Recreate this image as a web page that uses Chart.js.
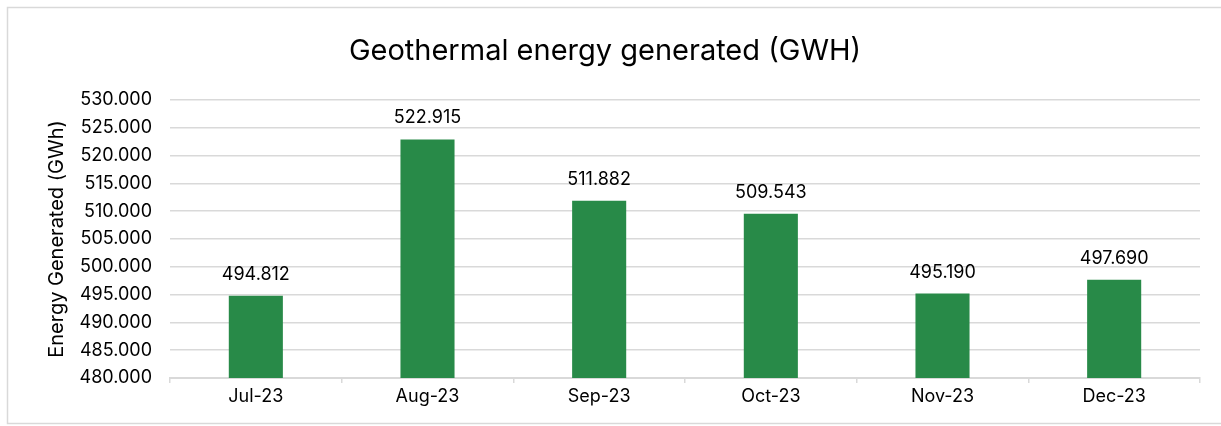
<!DOCTYPE html>
<html>
<head>
<meta charset="utf-8">
<script src="https://cdn.jsdelivr.net/npm/chart.js@4.4.1/dist/chart.umd.min.js"></script>
<style>
  html, body { margin: 0; padding: 0; background: #ffffff; }
  #wrap { width: 1221px; height: 426px; position: relative; }
</style>
</head>
<body>
<div id="wrap"><canvas id="c" width="1221" height="426"></canvas></div>
<script>
const chartTitle = 'Geothermal energy generated (GWH)';
const yAxisTitle = 'Energy Generated (GWh)';
const categories = ['Jul-23', 'Aug-23', 'Sep-23', 'Oct-23', 'Nov-23', 'Dec-23'];
const energyValues = [494.812, 522.915, 511.882, 509.543, 495.190, 497.690];
const yMin = 480;
const yMax = 530;
const yStep = 5;

const FONT = 'Inter, "Open Sans", sans-serif';

const framePlugin = {
  id: 'frame',
  beforeDraw(chart) {
    const ctx = chart.ctx;
    ctx.save();
    ctx.fillStyle = '#ffffff';
    ctx.fillRect(0, 0, chart.width, chart.height);
    ctx.strokeStyle = '#d9d9d9';
    ctx.lineWidth = 1.5;
    ctx.strokeRect(7.5, 7.5, chart.width + 10, chart.height - 10);
    ctx.restore();
  },
  afterDraw(chart) {
    const ctx = chart.ctx;
    ctx.save();
    ctx.fillStyle = '#000000';
    ctx.font = '29px ' + FONT;
    ctx.textAlign = 'center';
    ctx.textBaseline = 'middle';
    ctx.fillText(chartTitle, 605, 51);
    // value labels
    ctx.font = '18px ' + FONT;
    ctx.textBaseline = 'alphabetic';
    const meta = chart.getDatasetMeta(0);
    meta.data.forEach((bar, i) => {
      ctx.fillText(energyValues[i].toFixed(3), bar.x, bar.y - 16);
    });
    ctx.restore();
  }
};

new Chart(document.getElementById('c'), {
  type: 'bar',
  data: {
    labels: categories,
    datasets: [{
      data: energyValues,
      backgroundColor: '#288a48',
      borderWidth: 0,
      barPercentage: 0.63,
      categoryPercentage: 0.5
    }]
  },
  options: {
    responsive: false,
    animation: false,
    devicePixelRatio: 1,
    layout: { padding: { top: 100, right: 21, bottom: 0, left: 0 } },
    plugins: {
      legend: { display: false },
      tooltip: { enabled: false },
      title: { display: false }
    },
    scales: {
      x: {
        afterFit(scale) { scale.height = 48; },
        grid: {
          display: true,
          drawOnChartArea: false,
          drawTicks: true,
          tickLength: 5,
          color: '#d9d9d9',
          lineWidth: 1.5,
          offset: true
        },
        border: { display: true, color: '#d9d9d9', width: 2 },
        ticks: {
          color: '#000000',
          font: { family: FONT, size: 18 },
          padding: 3,
          maxRotation: 0
        }
      },
      y: {
        min: yMin,
        max: yMax,
        afterFit(scale) { scale.width = 170; },
        grid: {
          color: '#d9d9d9',
          lineWidth: 1.5,
          drawTicks: false
        },
        border: { display: false },
        ticks: {
          stepSize: yStep,
          color: '#000000',
          font: { family: FONT, size: 18 },
          padding: 18,
          callback: (v) => Number(v).toFixed(3)
        },
        title: {
          display: true,
          text: yAxisTitle,
          color: '#000000',
          font: { family: FONT, size: 20 },
          padding: { top: 45, bottom: 0 }
        }
      }
    }
  },
  plugins: [framePlugin]
});
</script>
</body>
</html>
